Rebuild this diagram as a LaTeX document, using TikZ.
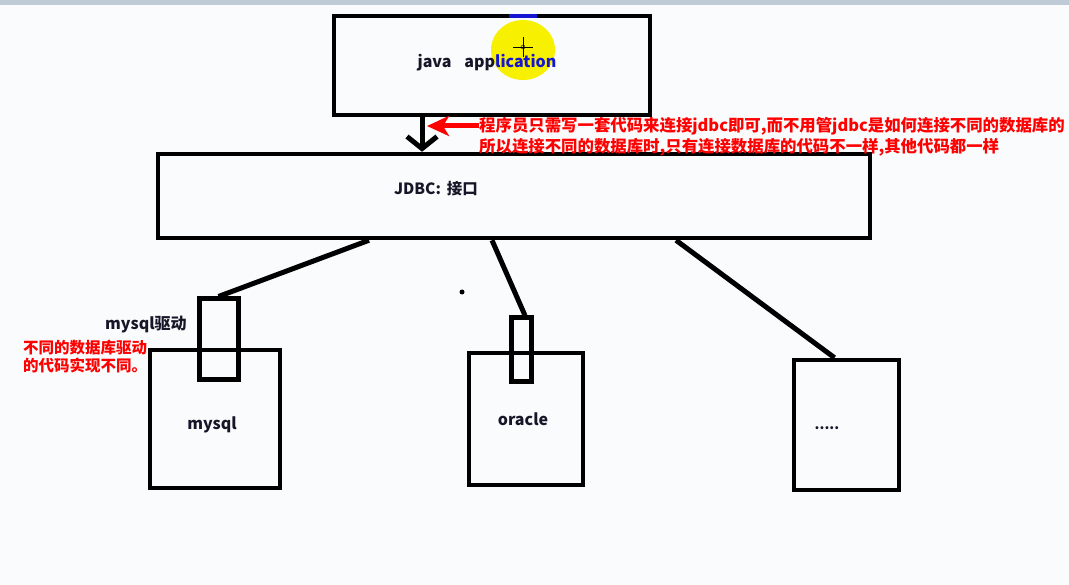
\documentclass[tikz,border=0pt]{standalone}
\usepackage{fontspec}
\setmainfont{Noto Sans CJK SC}
\usetikzlibrary{arrows.meta,positioning}
\definecolor{bgcol}{RGB}{250,251,252}
\definecolor{barcol}{RGB}{190,202,214}
\definecolor{hilite}{RGB}{247,240,0}
\definecolor{hiblue}{RGB}{20,20,210}
\definecolor{ink}{RGB}{22,22,40}
\begin{document}
\begin{tikzpicture}[x=1pt, y=-1pt,
    box/.style = {draw, line width=4.5pt, inner sep=0pt},
    link/.style = {line width=5pt},
    txt/.style = {text=ink, font=\bfseries\fontsize{16}{19}\selectfont, inner sep=0pt},
    note/.style = {text=red, align=left, inner sep=0pt}]
    % background
    \fill[bgcol] (0,0) rectangle (1069,585);
    \fill[barcol] (0,0) rectangle (1069,5);
    \useasboundingbox (0,0) rectangle (1069,585);
    \fill[hilite] (523,50) ellipse [x radius=32, y radius=30];
    % place nodes
    \node[box, minimum width=316pt, minimum height=99pt] (app) at (492,65.5) {};
    \node[txt] (apptxt) at (487,63) {java\hspace{13pt}app\textcolor{hiblue}{lication}};
    \draw[hiblue, line width=4.5pt] (509,16) -- (537,16);
    \draw[thin] (513,47) -- (533,47) (523,37) -- (523,57);
    \draw[thin] (523,47) circle (2);
    \node[box, minimum width=712pt, minimum height=84pt] (jdbc) at (514,196) {};
    \node[txt, font=\bfseries\fontsize{15.5}{18}\selectfont] (jdbctxt) at (436,189) {JDBC:\hspace{6pt}接口};
    \node[box, minimum width=130pt, minimum height=138pt] (mysql) at (215,419) {};
    \node[txt] (mysqltxt) at (212,425) {mysql};
    \node[box, link, minimum width=39pt, minimum height=81pt] (mysqldrv) at (218.5,339.5) {};
    \node[txt, anchor=west] (drvtxt) at (105,325) {mysql驱动};
    \node[box, minimum width=114pt, minimum height=132pt] (oracle) at (526,419) {};
    \node[txt] (oracletxt) at (523,419) {oracle};
    \node[box, link, minimum width=20pt, minimum height=64pt] (oracledrv) at (521,350) {};
    \node[box, minimum width=105pt, minimum height=130pt] (other) at (846.5,425) {};
    \node[txt, font=\bfseries\fontsize{14}{17}\selectfont] (othertxt) at (827,428) {.....};
    \node[note, anchor=west, font=\bfseries\fontsize{16.4}{21}\selectfont] (note) at (479,136.5)
        {程序员只需写一套代码来连接jdbc即可,而不用管jdbc是如何连接不同的数据库的\\所以连接不同的数据库时,只有连接数据库的代码不一样,其他代码都一样};
    \node[note, anchor=west, font=\bfseries\fontsize{15.5}{17.5}\selectfont] (drvnote) at (23,356.5)
        {不同的数据库驱动\\的代码实现不同。};
    \fill (462,292) circle (2.5);
    \coordinate (tip) at (427,126);
    % draw edges
    \draw[link, -{Straight Barb[length=12pt, width=30pt]}] ([xshift=-70pt]app.south) -- ([xshift=-92pt]jdbc.north);
    \draw[link, red, -{Stealth[length=22pt, width=20pt, inset=6pt]}] (tip -| note.west) -- (tip);
    \draw[link] ([xshift=-145pt]jdbc.south) -- (mysqldrv.north);
    \draw[link] ([xshift=-22pt]jdbc.south) -- ([xshift=4pt]oracledrv.north);
    \draw[link] ([xshift=162pt]jdbc.south) -- ([xshift=-12pt]other.north);
\end{tikzpicture}
\end{document}
